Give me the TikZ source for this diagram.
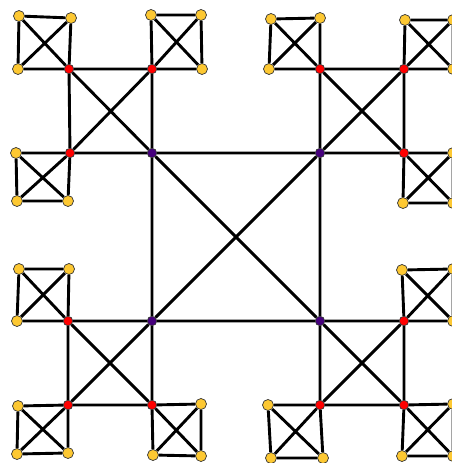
\documentclass[tikz,border=0pt]{standalone}
\usepackage{tikz}

\definecolor{gold}{RGB}{253,200,50}
\definecolor{indigo}{RGB}{70,0,125}

\tikzset{
  link/.style={line width=2.9pt, black},
  yel/.style={circle, draw=black!80, line width=0.7pt, fill=gold, inner sep=0pt, minimum size=11pt},
  rd/.style={circle, draw=black!80, line width=0.7pt, fill=red, inner sep=0pt, minimum size=9.5pt},
  pur/.style={circle, draw=black!80, line width=0.7pt, fill=indigo, inner sep=0pt, minimum size=9.5pt}
}

\begin{document}
\begin{tikzpicture}[x=1pt, y=-1pt]
  \useasboundingbox (0,0) rectangle (452,463);
  \clip (0,0) rectangle (452,463);

  % centre
  \node[pur] (p1) at (152,153) {};
  \node[pur] (p2) at (320,153) {};
  \node[pur] (p3) at (152,321) {};
  \node[pur] (p4) at (320,321) {};

  % second level
  \node[rd] (r11) at (69,69) {};
  \node[rd] (r12) at (152,69) {};
  \node[rd] (r13) at (70,153) {};
  \node[rd] (r21) at (320,69) {};
  \node[rd] (r22) at (404,69) {};
  \node[rd] (r23) at (404,153) {};
  \node[rd] (r31) at (68,321) {};
  \node[rd] (r32) at (68,405) {};
  \node[rd] (r33) at (152,405) {};
  \node[rd] (r41) at (404,321) {};
  \node[rd] (r42) at (320,405) {};
  \node[rd] (r43) at (404,405) {};

  % leaves
  \node[yel] (y11a) at (19,16) {};
  \node[yel] (y11b) at (71,18) {};
  \node[yel] (y11c) at (18,69) {};
  \node[yel] (y12a) at (151,15) {};
  \node[yel] (y12b) at (201,15) {};
  \node[yel] (y12c) at (202,69) {};
  \node[yel] (y13a) at (16,153) {};
  \node[yel] (y13b) at (17,201) {};
  \node[yel] (y13c) at (68,201) {};
  \node[yel] (y21a) at (271,19) {};
  \node[yel] (y21b) at (320,18) {};
  \node[yel] (y21c) at (269,69) {};
  \node[yel] (y22a) at (405,20) {};
  \node[yel] (y22b) at (453,20) {};
  \node[yel] (y22c) at (453,69) {};
  \node[yel] (y23a) at (453,153) {};
  \node[yel] (y23b) at (403,203) {};
  \node[yel] (y23c) at (453,203) {};
  \node[yel] (y31a) at (19,269) {};
  \node[yel] (y31b) at (69,269) {};
  \node[yel] (y31c) at (17,321) {};
  \node[yel] (y32a) at (18,406) {};
  \node[yel] (y32b) at (17,454) {};
  \node[yel] (y32c) at (68,453) {};
  \node[yel] (y33a) at (201,404) {};
  \node[yel] (y33b) at (153,455) {};
  \node[yel] (y33c) at (201,456) {};
  \node[yel] (y41a) at (402,270) {};
  \node[yel] (y41b) at (453,269) {};
  \node[yel] (y41c) at (453,321) {};
  \node[yel] (y42a) at (268,405) {};
  \node[yel] (y42b) at (271,458) {};
  \node[yel] (y42c) at (323,458) {};
  \node[yel] (y43a) at (453,404) {};
  \node[yel] (y43b) at (402,456) {};
  \node[yel] (y43c) at (453,456) {};

  % every group of four is complete
  \foreach \a/\b/\c/\d in {p1/p2/p3/p4,
      p1/r11/r12/r13, p2/r21/r22/r23, p3/r31/r32/r33, p4/r41/r42/r43,
      r11/y11a/y11b/y11c, r12/y12a/y12b/y12c, r13/y13a/y13b/y13c,
      r21/y21a/y21b/y21c, r22/y22a/y22b/y22c, r23/y23a/y23b/y23c,
      r31/y31a/y31b/y31c, r32/y32a/y32b/y32c, r33/y33a/y33b/y33c,
      r41/y41a/y41b/y41c, r42/y42a/y42b/y42c, r43/y43a/y43b/y43c}
    \draw[link] (\a) -- (\b) (\a) -- (\c) (\a) -- (\d)
                (\b) -- (\c) (\b) -- (\d) (\c) -- (\d);
\end{tikzpicture}
\end{document}
